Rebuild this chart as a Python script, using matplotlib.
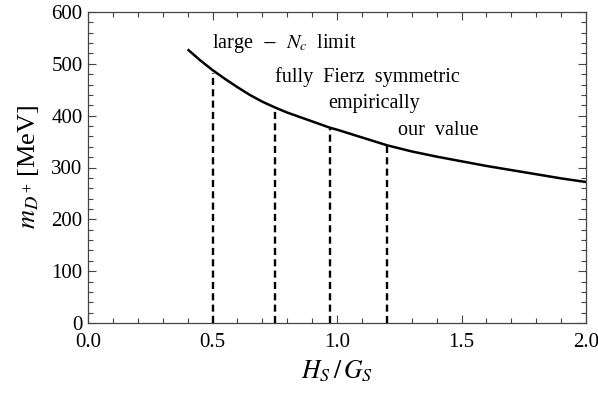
import matplotlib
matplotlib.use("Agg")
import matplotlib.pyplot as plt
from matplotlib.ticker import MultipleLocator

plt.rcParams['font.family'] = ['Liberation Serif', 'DejaVu Serif']
plt.rcParams['mathtext.fontset'] = 'stix'

# curve data
ratio = [0.4, 0.45, 0.5, 0.55, 0.6, 0.65, 0.7, 0.75, 0.8, 0.9, 0.97, 1.0, 1.1, 1.2, 1.3, 1.4, 1.5, 1.6, 1.7, 1.8, 1.9, 2.0]
mass = [528, 507, 488, 471, 455, 440, 427, 416, 406, 389, 377, 373, 358, 343, 331, 321, 312, 303, 295, 287, 279, 272]

# vertical markers
marker_x = [0.5, 0.75, 0.97, 1.2]
marker_top = [482, 412, 375, 342]
labels = [r"large  $-$  $N_c$  limit", "fully  Fierz  symmetric", "empirically", "our  value"]
label_x = [0.497, 0.75, 0.965, 1.244]
label_y = [540, 474, 424, 372]

fig = plt.figure(figsize=(5.98, 3.96), dpi=100)
ax = fig.add_axes([88/598, 1 - 323/396, (586-88)/598, (323-12)/396])

ax.plot(ratio, mass, color='black', lw=1.8, solid_capstyle='butt')
for xm, top in zip(marker_x, marker_top):
    ax.plot([xm, xm], [0, top], color='black', lw=1.7, dashes=(3.0, 1.8))
for t, lx, ly in zip(labels, label_x, label_y):
    ax.text(lx, ly, t, fontsize=14.5, ha='left', va='center')

ax.set_xlim(0, 2.0)
ax.set_ylim(0, 600)
ax.xaxis.set_major_locator(MultipleLocator(0.5))
ax.xaxis.set_minor_locator(MultipleLocator(0.1))
ax.yaxis.set_major_locator(MultipleLocator(100))
ax.yaxis.set_minor_locator(MultipleLocator(20))
ax.xaxis.set_major_formatter(matplotlib.ticker.FormatStrFormatter('%.1f'))
ax.tick_params(which='both', direction='in', top=True, right=True, labelsize=15, color='#444444', width=0.8)
ax.tick_params(which='major', length=6)
ax.tick_params(axis='x', which='major', pad=7)
ax.tick_params(axis='y', which='major', pad=4)
ax.tick_params(which='minor', length=3.5)
for s in ax.spines.values():
    s.set_color('#444444')
    s.set_linewidth(0.9)

ax.set_xlabel(r"$H_S\,/\,G_S$", fontsize=18.5, labelpad=5)
ax.set_ylabel(r"$m_{D^+}\,$[MeV]", fontsize=19, labelpad=7)

fig.savefig("out.png", dpi=100)
